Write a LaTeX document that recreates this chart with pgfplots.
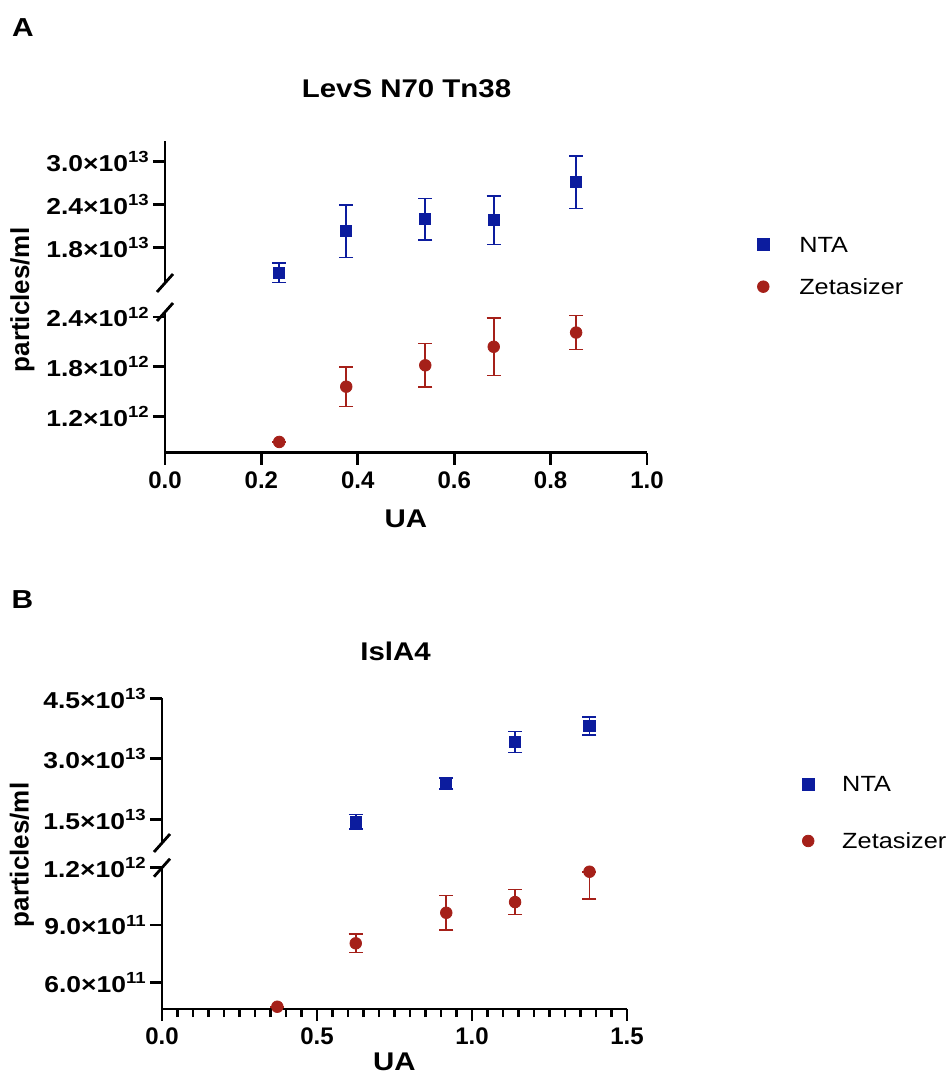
\documentclass[border=0pt]{standalone}
\usepackage{fontspec}
\setmainfont{Liberation Sans}[FakeStretch=1.15]
\newfontfamily\ylabfont{Liberation Sans}
\usepackage{pgfplots}
\pgfplotsset{compat=1.18}

\definecolor{ntablue}{RGB}{12,28,158}
\definecolor{zetared}{RGB}{165,32,25}

\pgfplotsset{
  part/.style={
    scale only axis, clip=false,
    axis line style={line width=1.4pt},
    tick style={line width=1.4pt, black},
    major tick length=6pt, minor tick length=4pt,
    tick align=outside,
    yticklabel style={font=\bfseries\fontsize{11.5}{13}\selectfont, inner sep=1.5pt},
    xticklabel style={font=\ylabfont\bfseries\fontsize{12}{14}\selectfont},
    scaled y ticks=false,
  },
  upper part/.style={part, axis x line=none, axis y line*=left, xtick=\empty,
    after end axis/.code={\draw[line width=1.4pt] ([shift={(-4pt,-4.5pt)}]rel axis cs:0,0) -- ([shift={(4pt,4.5pt)}]rel axis cs:0,0);}},
  lower part/.style={part, axis x line*=bottom, axis y line*=left,
    after end axis/.code={\draw[line width=1.4pt] ([shift={(-4pt,-4.5pt)}]rel axis cs:0,1) -- ([shift={(4pt,4.5pt)}]rel axis cs:0,1);}},
  nta/.style={only marks, mark=square*, mark size=2.8pt, color=ntablue,
    error bars/y dir=both, error bars/y explicit,
    error bars/error bar style={line width=0.8pt, ntablue},
    error bars/error mark options={rotate=90, mark size=3.5pt, line width=0.8pt, ntablue}},
  zeta/.style={only marks, mark=*, mark size=2.9pt, color=zetared,
    error bars/y dir=both, error bars/y explicit,
    error bars/error bar style={line width=0.8pt, zetared},
    error bars/error mark options={rotate=90, mark size=3.5pt, line width=0.8pt, zetared}},
  legbox/.style={legend cell align=left,
    legend style={draw=none, fill=none, inner sep=0pt, column sep=0pt,
      nodes={inner sep=0pt, text height=8pt, text depth=0pt},
      font=\fontsize{11}{13}\selectfont}},
}

\begin{document}
\begin{tikzpicture}
\path[use as bounding box] (0,0) rectangle (475pt,-544.5pt);

% ---------- panel A ----------
\node[font=\bfseries\fontsize{13}{15}\selectfont] at (11.5pt,-13.75pt) {A};
\node[font=\bfseries\fontsize{12.8}{15}\selectfont] at (203.25pt,-44.5pt) {LevS N70 Tn38};
\node[font=\ylabfont\bfseries\fontsize{13}{15}\selectfont, rotate=90] at (11.25pt,-150pt) {particles/ml};

\begin{axis}[upper part, legbox,
  at={(82.5pt,-141.5pt)}, anchor=south west,
  width=241pt, height=71.15pt,
  xmin=0, xmax=1, ymin=1.3e13, ymax=3.29e13,
  ytick={1.8e13,2.4e13,3.0e13},
  yticklabels={1.8×10\textsuperscript{13},2.4×10\textsuperscript{13},3.0×10\textsuperscript{13}},
  legend image code/.code={\path[draw=none,fill=none] (0pt,-4pt) rectangle (21pt,4pt); \draw[#1] plot coordinates {(3pt,0pt)};},
  legend style={at={(1.228,0.124)}, anchor=west, row sep=13.3pt},
]
\addplot[nta, forget plot] coordinates {
  (0.237,1.444e13) +- (0,0.135e13)
  (0.376,2.025e13) +- (0,0.37e13)
  (0.540,2.194e13) +- (0,0.29e13)
  (0.682,2.180e13) +- (0,0.34e13)
  (0.853,2.710e13) +- (0,0.37e13)
};
\addlegendimage{only marks, mark=square*, mark size=3pt, ntablue}
\addlegendentry{NTA}
\addlegendimage{only marks, mark=*, mark size=2.9pt, zetared}
\addlegendentry{Zetasizer}
\end{axis}

\begin{axis}[lower part,
  at={(82.5pt,-226.35pt)}, anchor=south west,
  width=241pt, height=70.35pt,
  xmin=0, xmax=1, ymin=0.76e12, ymax=2.46e12,
  xtick={0,0.2,0.4,0.6,0.8,1},
  xticklabels={0.0,0.2,0.4,0.6,0.8,1.0},
  ytick={1.2e12,1.8e12,2.4e12},
  yticklabels={1.2×10\textsuperscript{12},1.8×10\textsuperscript{12},2.4×10\textsuperscript{12}},
  xlabel={UA},
  xlabel style={font=\bfseries\fontsize{12.8}{15}\selectfont, at={(axis description cs:0.5,-0.471)}, anchor=center},
]
\addplot[zeta] coordinates {
  (0.237,0.890e12) +- (0,0.0)
  (0.376,1.558e12) +- (0,0.24e12)
  (0.540,1.816e12) +- (0,0.265e12)
  (0.682,2.040e12) +- (0,0.345e12)
  (0.853,2.212e12) +- (0,0.205e12)
};
\end{axis}

% ---------- panel B ----------
\node[font=\bfseries\fontsize{13}{15}\selectfont] at (11.25pt,-300pt) {B};
\node[font=\bfseries\fontsize{12.8}{15}\selectfont] at (197.75pt,-325.8pt) {IslA4};
\node[font=\ylabfont\bfseries\fontsize{13}{15}\selectfont, rotate=90] at (11pt,-427.5pt) {particles/ml};

\begin{axis}[upper part, legbox,
  at={(81pt,-421.5pt)}, anchor=south west,
  width=232.5pt, height=72.35pt,
  xmin=0, xmax=1.5, ymin=0.91e13, ymax=4.5e13,
  ytick={1.5e13,3.0e13,4.5e13},
  yticklabels={1.5×10\textsuperscript{13},3.0×10\textsuperscript{13},4.5×10\textsuperscript{13}},
  legend image code/.code={\path[draw=none,fill=none] (0pt,-4pt) rectangle (20pt,4pt); \draw[#1] plot coordinates {(3pt,0pt)};},
  legend style={at={(1.376,0.211)}, anchor=west, row sep=20.5pt},
]
\addplot[nta, forget plot] coordinates {
  (0.625,1.434e13) +- (0,0.18e13)
  (0.917,2.380e13) +- (0,0.136e13)
  (1.139,3.420e13) +- (0,0.26e13)
  (1.379,3.810e13) +- (0,0.22e13)
};
\addlegendimage{only marks, mark=square*, mark size=3pt, ntablue}
\addlegendentry{NTA}
\addlegendimage{only marks, mark=*, mark size=2.9pt, zetared}
\addlegendentry{Zetasizer}
\end{axis}

\begin{axis}[lower part,
  at={(81pt,-504.5pt)}, anchor=south west,
  width=232.5pt, height=70.65pt,
  xmin=0, xmax=1.5, ymin=4.6e11, ymax=1.2e12,
  xtick={0,0.5,1,1.5},
  xticklabels={0.0,0.5,1.0,1.5},
  minor x tick num=9,
  ytick={6.0e11,9.0e11,1.2e12},
  yticklabels={6.0×10\textsuperscript{11},9.0×10\textsuperscript{11},1.2×10\textsuperscript{12}},
  xlabel={UA},
  xlabel style={font=\bfseries\fontsize{12.8}{15}\selectfont, at={(axis description cs:0.5,-0.375)}, anchor=center},
]
\addplot[zeta] coordinates {
  (0.372,4.72e11) +- (0,0)
  (0.625,8.04e11) +- (0,0.48e11)
  (0.917,9.64e11) +- (0,0.9e11)
  (1.139,10.2e11) +- (0,0.66e11)
  (1.379,11.79e11) += (0,0) -= (0,1.44e11)
};
\end{axis}
\end{tikzpicture}
\end{document}
